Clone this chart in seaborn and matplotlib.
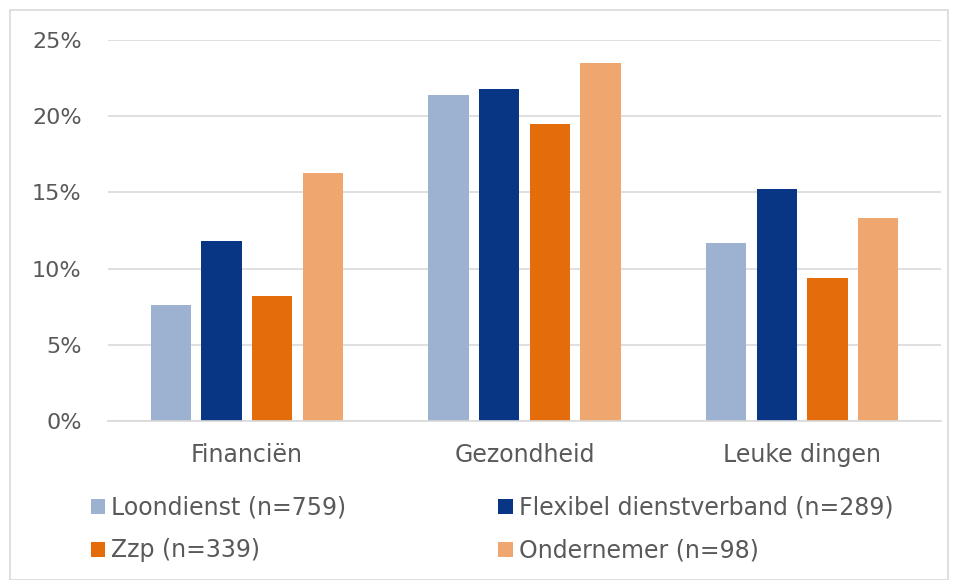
import matplotlib
matplotlib.use("Agg")
import matplotlib.pyplot as plt
import seaborn as sns
import pandas as pd
from matplotlib.patches import Rectangle

categories = ["Financiën", "Gezondheid", "Leuke dingen"]
series_names = ["Loondienst (n=759)", "Flexibel dienstverband (n=289)",
                "Zzp (n=339)", "Ondernemer (n=98)"]
loondienst = [7.6, 21.4, 11.7]
flexibel = [11.8, 21.8, 15.2]
zzp = [8.2, 19.5, 9.4]
ondernemer = [16.3, 23.5, 13.3]
yticks = [0, 5, 10, 15, 20, 25]
colors = ["#9DB2D1", "#083685", "#E46C0A", "#F0A76F"]

rows = []
for name, vals in zip(series_names, [loondienst, flexibel, zzp, ondernemer]):
    for c, v in zip(categories, vals):
        rows.append({"cat": c, "serie": name, "val": v})
df = pd.DataFrame(rows)

sns.set_theme(style="white")
plt.rcParams['font.family'] = ['DejaVu Sans']
text_col = "#595959"

fig = plt.figure(figsize=(9.58, 5.8), dpi=100)
ax = fig.add_axes([108/958, 1-421/580, (941-108)/958, (421-40)/580])

sns.barplot(data=df, x="cat", y="val", hue="serie", order=categories,
            hue_order=series_names, palette=colors, width=0.73, gap=0.21,
            saturation=1, linewidth=0, ax=ax, legend=True)

ax.set_ylim(0, 25)
ax.set_yticks(yticks)
ax.set_yticklabels([f"{t}%" for t in yticks], color=text_col, fontsize=16)
ax.tick_params(axis='x', colors=text_col, labelsize=17, length=0, pad=16)
ax.tick_params(axis='y', length=0, pad=19, colors=text_col)
ax.set_xlabel("")
ax.set_ylabel("")
ax.yaxis.grid(True, color="#D9D9D9", linewidth=1.2)
ax.set_axisbelow(True)
for s in ["top", "right", "left"]:
    ax.spines[s].set_visible(False)
ax.spines["bottom"].set_color("#D9D9D9")
ax.spines["bottom"].set_linewidth(1.2)
ax.set_xlim(-0.5, 2.5)

handles, labels = ax.get_legend_handles_labels()
ax.legend_.remove()
order = [0, 2, 1, 3]
leg = fig.legend([handles[i] for i in order], [labels[i] for i in order],
                 loc="upper left", bbox_to_anchor=(91/958, 1-496/580),
                 ncol=2, frameon=False, fontsize=17, handlelength=0.6, handleheight=0.6,
                 handletextpad=0.25, columnspacing=6.45, labelspacing=0.78,
                 borderpad=0, borderaxespad=0)
for t in leg.get_texts():
    t.set_color(text_col)

fig.patches.append(Rectangle((10/958, 0), 1 - 20/958, 1 - 10/580, transform=fig.transFigure,
                             fill=False, edgecolor="#D9D9D9", linewidth=1.2))

fig.savefig("out.png", dpi=100)
